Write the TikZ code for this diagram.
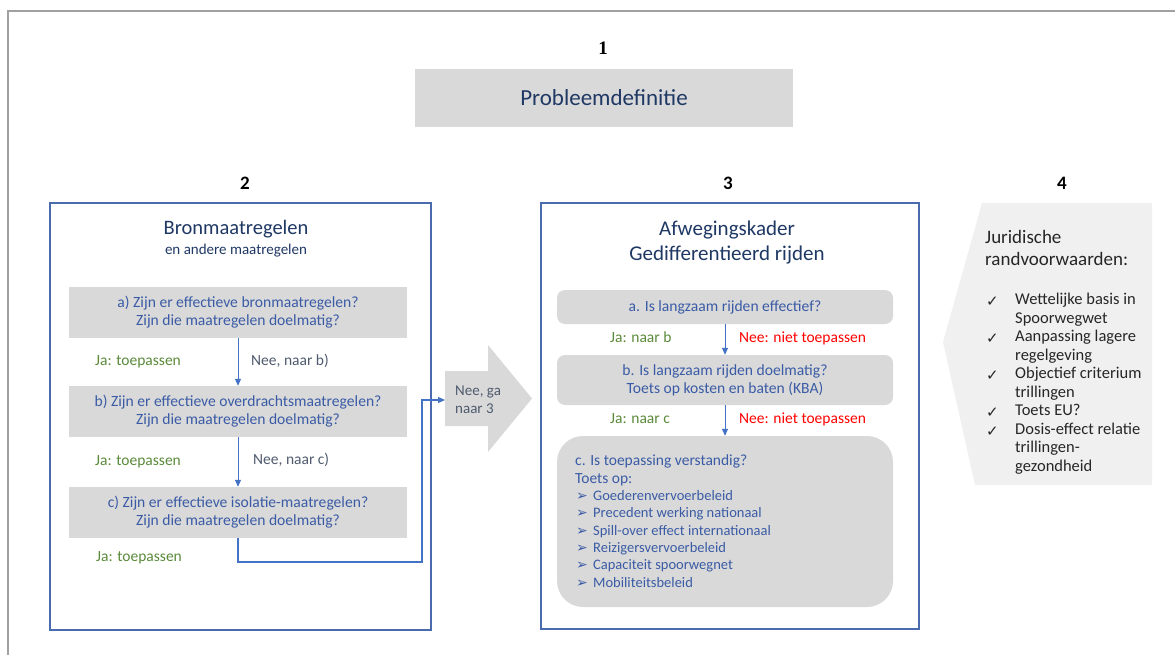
\documentclass[tikz,border=0pt]{standalone}
\usepackage{fontspec}
\setmainfont{Carlito}
\newfontfamily\dejavu{DejaVu Sans}
\newfontfamily\serifb{Liberation Serif}
\usetikzlibrary{arrows.meta}
\definecolor{navy}{HTML}{1F3864}
\definecolor{qblue}{HTML}{3A5BA5}
\definecolor{lblue}{HTML}{4472C4}
\definecolor{frameblue}{HTML}{4A6BAE}
\definecolor{boxgray}{HTML}{D9D9D9}
\definecolor{palegray}{HTML}{F0F0F0}
\definecolor{jagreen}{HTML}{5A8A3A}
\definecolor{neegray}{HTML}{4F5B6E}
\definecolor{framegray}{HTML}{A0A0A0}
\definecolor{darktext}{HTML}{262626}
\begin{document}
\begin{tikzpicture}[x=1pt,y=-1pt,
  qbox/.style={fill=boxgray, inner sep=0, align=center, text=qblue, font=\fontsize{15.6}{18}\selectfont},
  rbox/.style={qbox, rounded corners=8pt},
  lbl/.style={inner sep=0, anchor=west, text height=0.62em, text depth=0.05em, font=\fontsize{15.5}{17}\selectfont},
  ja/.style={lbl, text=jagreen},
  nee/.style={lbl, text=neegray},
  neered/.style={lbl, text=red},
  conn/.style={draw=lblue, line width=1pt, -{Triangle[length=7pt,width=6pt]}},
  num/.style={inner sep=0, font=\fontsize{19}{19}\selectfont\bfseries},
  panel/.style={draw=frameblue, line width=1.1pt, inner sep=0, fill=white},
  ttl/.style={inner sep=0, text=navy, align=center},
  cline/.style={inner sep=0, anchor=west, text=qblue, text height=0.62em, text depth=0.05em},
  rline/.style={inner sep=0, anchor=west, text=darktext, text height=0.62em, text depth=0.05em, font=\fontsize{16.5}{18}\selectfont},
]
\useasboundingbox (0,0) rectangle (1175,655);
\fill[white] (0,0) rectangle (1175,655);
% outer frame
\draw[framegray, line width=1.5pt] (1175,11) -- (8,11) -- (8,655);

% 1
\node[inner sep=0, font=\serifb\fontsize{19}{19}\selectfont\bfseries] (n1) at (603,48) {1};
\node[fill=boxgray, minimum width=378pt, minimum height=58pt, inner sep=0, text=navy, font=\fontsize{23}{25}\selectfont] (prob) at (604,98) {Probleemdefinitie};

% numbers
\node[num] (n2) at (245,183) {2};
\node[num] (n3) at (728,183) {3};
\node[num] (n4) at (1062,183) {4};

% panel 2
\node[panel, minimum width=381pt, minimum height=427pt] (p2) at (240.5,416.5) {};
\node[ttl, font=\fontsize{20.5}{22}\selectfont] (t2a) at (236,229) {Bronmaatregelen};
\node[ttl, font=\fontsize{15}{17}\selectfont] (t2b) at (236,251) {en andere maatregelen};

\node[qbox, minimum width=338pt, minimum height=51pt] (qa) at (238,312.5) {a) Zijn er effectieve bronmaatregelen?\\Zijn die maatregelen doelmatig?};
\node[qbox, minimum width=338pt, minimum height=51pt] (qb) at (238,411.5) {b) Zijn er effectieve overdrachtsmaatregelen?\\Zijn die maatregelen doelmatig?};
\node[qbox, minimum width=338pt, minimum height=51pt] (qc) at (238,512.5) {c) Zijn er effectieve isolatie-maatregelen?\\Zijn die maatregelen doelmatig?};

\draw[conn] (qa.south) -- (qb.north);
\draw[conn] (qb.south) -- (qc.north);

\node[ja] (ja1) at (95,363) {Ja: toepassen};
\node[nee] (nee1) at (251,363) {Nee, naar b)};
\node[ja] (ja2) at (95,463) {Ja: toepassen};
\node[nee] (nee2) at (253,462) {Nee, naar c)};
\node[ja] (ja3) at (96,559) {Ja: toepassen};

% panel 3
\node[panel, minimum width=378pt, minimum height=426pt] (p3) at (730,416) {};

% big arrow
\fill[boxgray] (445,371) -- (488,371) -- (488,345) -- (532,398.5) -- (488,452) -- (488,426) -- (445,426) -- cycle;
\coordinate (arrin) at (445,400);
\node[inner sep=0, anchor=west, align=left, text=neegray, font=\fontsize{15}{18}\selectfont] (neega) at (455,400) {Nee, ga\\naar 3};

\draw[conn, line width=1.2pt] (qc.south) -- (238,562) -- (422,562) -- (422,400) -- (arrin);

\node[ttl, font=\fontsize{21}{25}\selectfont] (t3) at (727,242.5) {Afwegingskader\\Gedifferentieerd rijden};

\node[rbox, minimum width=336pt, minimum height=34pt] (ra) at (725,307) {a. Is langzaam rijden effectief?};
\node[rbox, minimum width=336pt, minimum height=50pt] (rb) at (725,380) {b. Is langzaam rijden doelmatig?\\Toets op kosten en baten (KBA)};
\node[fill=boxgray, rounded corners=26pt, minimum width=336pt, minimum height=171pt, inner sep=0] (rc) at (725,521.5) {};

\draw[conn] (ra.south) -- (rb.north);
\draw[conn] (rb.south) -- (rc.north);

\node[ja] (ja4) at (610,340) {Ja: naar b};
\node[neered] (nr1) at (739,340) {Nee: niet toepassen};
\node[ja] (ja5) at (610,421) {Ja: naar c};
\node[neered] (nr2) at (739,421) {Nee: niet toepassen};

\node[cline, font=\fontsize{15.5}{17}\selectfont] (c1) at (575,463) {c. Is toepassing verstandig?};
\node[cline, font=\fontsize{15.5}{17}\selectfont] (c2) at (575,481) {Toets op:};
\foreach \t [count=\i] in {Goederenvervoerbeleid, Precedent werking nationaal, Spill-over effect internationaal, Reizigersvervoerbeleid, Capaciteit spoorwegnet, Mobiliteitsbeleid}{
  \node[cline, font=\fontsize{14.5}{16}\selectfont] (cb\i) at (576,480+\i*17.4) {\makebox[17pt][l]{\dejavu\fontsize{14}{14}\selectfont ➢}\t};
}

% panel 4
\fill[palegray] (982,203) -- (1152,203) -- (1152,485) -- (975,485) -- (943,342) -- cycle;
\node[rline, font=\fontsize{19}{21}\selectfont] (j1) at (985,241) {Juridische};
\node[rline, font=\fontsize{19}{21}\selectfont] (j2) at (985,263) {randvoorwaarden:};
\foreach \t/\yy/\ck [count=\i] in {Wettelijke basis in/302/1, Spoorwegwet/320.5/0, Aanpassing lagere/339/1, regelgeving/357.5/0, Objectief criterium/376/1, trillingen/394.5/0, Toets EU?/413/1, Dosis-effect relatie/431.5/1, trillingen-/450/0, gezondheid/468.5/0}{
  \node[rline] (r\i) at (1015,\yy) {\t};
  \ifnum\ck=1 \node[inner sep=0, anchor=west, text=darktext, font=\dejavu\fontsize{15}{15}\selectfont] (ck\i) at (986,\yy) {✓};\fi
}
\end{tikzpicture}
\end{document}
